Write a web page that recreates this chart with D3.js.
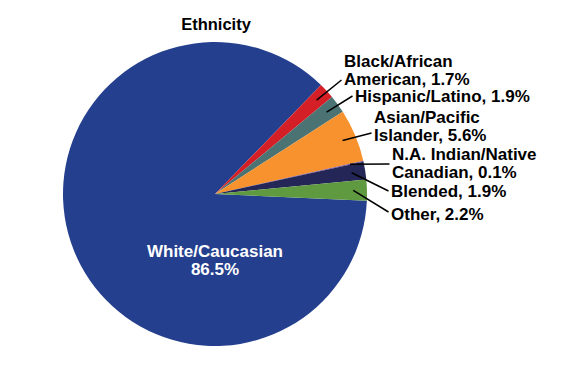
<!DOCTYPE html>
<html>
<head>
<meta charset="utf-8">
<script src="https://cdn.jsdelivr.net/npm/d3@7"></script>
<style>
  html, body { margin: 0; padding: 0; background: #ffffff; }
  svg text { font-family: "Liberation Sans", Arial, sans-serif; font-weight: bold; }
</style>
</head>
<body>
<div id="pie-chart"></div>
<script>
// Chart data
const title = "Ethnicity";
const categories = ["White/Caucasian", "Black/African American", "Hispanic/Latino",
    "Asian/Pacific Islander", "N.A. Indian/Native Canadian", "Blended", "Other"];
const values = [86.5, 1.7, 1.9, 5.6, 0.1, 1.9, 2.2];
const labelLines = [
    ["White/Caucasian", "86.5%"],
    ["Black/African", "American, 1.7%"],
    ["Hispanic/Latino, 1.9%"],
    ["Asian/Pacific", "Islander, 5.6%"],
    ["N.A. Indian/Native", "Canadian, 0.1%"],
    ["Blended, 1.9%"],
    ["Other, 2.2%"]
];

// Styles and layout
const colors = ["#243f8e", "#d41f26", "#4c7373", "#f7922e", "#7a4f9a", "#232656", "#5f9a40"];
const width = 577, height = 368;
const cx = 215, cy = 194, radius = 152;
const startDeg = 92.5;
const fontSize = 17, lineGap = 17.8;

// label placement: [x, first baseline, leader end y] (null = no leader)
const labelLayout = [
    [215, 257, null],
    [344, 67, 80],
    [355, 102, 96],
    [374, 123, 133],
    [392, 160, 164],
    [391, 197, 191],
    [391, 220, 212]
];

const svg = d3.select("#pie-chart").append("svg")
    .attr("width", width)
    .attr("height", height);

svg.append("text")
    .attr("x", cx + 1)
    .attr("y", 30)
    .attr("text-anchor", "middle")
    .style("font-size", "16.5px")
    .attr("fill", "#000")
    .text(title);

const pie = d3.pie()
    .sort(null)
    .value(d => d)
    .startAngle(startDeg * Math.PI / 180)
    .endAngle(startDeg * Math.PI / 180 + 2 * Math.PI);

const arcs = pie(values);

const arc = d3.arc().innerRadius(0).outerRadius(radius);
const leaderArc = d3.arc().innerRadius(radius * 0.91).outerRadius(radius * 0.91);

const g = svg.append("g").attr("transform", `translate(${cx},${cy})`);

g.selectAll("path")
    .data(arcs)
    .join("path")
    .attr("d", arc)
    .attr("fill", (d, i) => colors[i]);

// Leader lines from slice to label
svg.append("g").classed("leaders", true)
    .selectAll("line")
    .data(arcs.filter((d, i) => labelLayout[i][2] !== null))
    .join("line")
    .attr("x1", d => cx + leaderArc.centroid(d)[0])
    .attr("y1", d => cy + leaderArc.centroid(d)[1])
    .attr("x2", d => labelLayout[d.index][0] - 2.5)
    .attr("y2", d => labelLayout[d.index][2])
    .attr("stroke", "#000")
    .attr("stroke-width", 1.5);

// Data labels
const labels = svg.append("g").classed("labels", true)
    .selectAll("text")
    .data(arcs)
    .join("text")
    .attr("x", d => labelLayout[d.index][0])
    .attr("y", d => labelLayout[d.index][1])
    .attr("text-anchor", d => d.index == 0 ? "middle" : "start")
    .attr("fill", d => d.index == 0 ? "#ffffff" : "#000000")
    .style("font-size", fontSize + "px");

labels.selectAll("tspan")
    .data(d => labelLines[d.index].map(t => ({t: t, i: d.index})))
    .join("tspan")
    .attr("x", d => labelLayout[d.i][0])
    .attr("dy", (d, j) => j == 0 ? 0 : lineGap)
    .text(d => d.t);
</script>
</body>
</html>
